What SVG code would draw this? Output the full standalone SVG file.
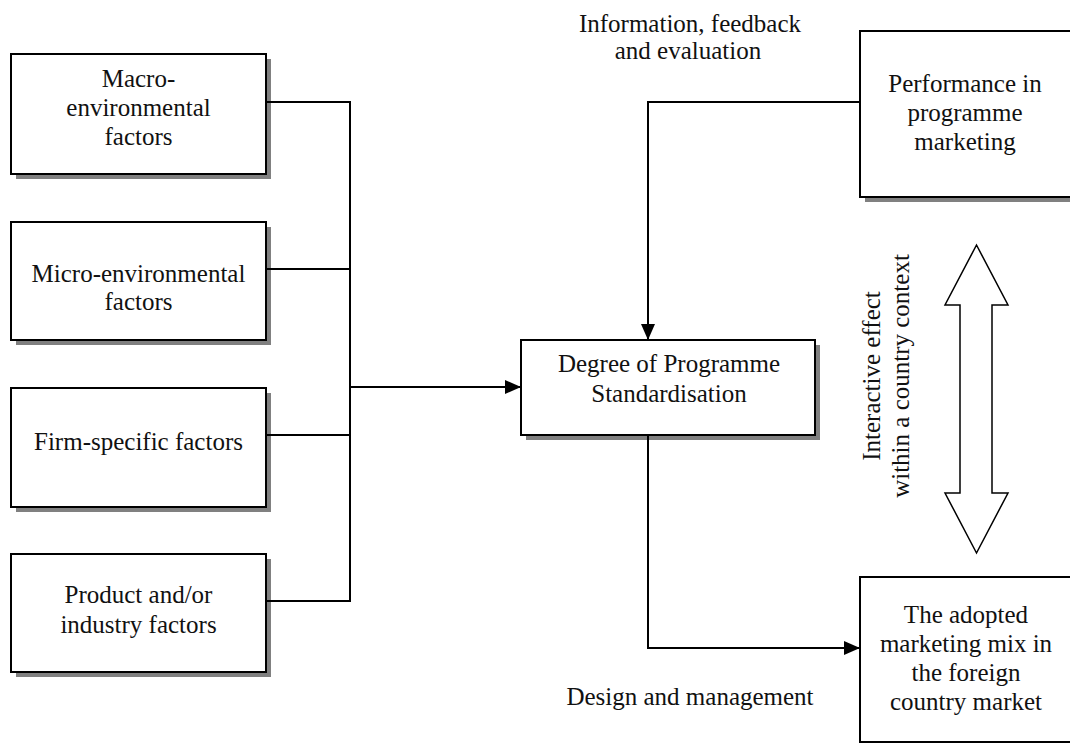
<svg xmlns="http://www.w3.org/2000/svg" width="1070" height="744" viewBox="0 0 1070 744">
  <style>
    text { font-family: "Liberation Serif", "Times New Roman", serif; font-size: 25px; fill: #111; text-anchor: middle; }
    .shadow { fill: #808080; stroke: none; }
    .box { fill: #fff; stroke: #000; stroke-width: 2; }
    .wire { fill: none; stroke: #000; stroke-width: 2; }
    .big { fill: #fff; stroke: #000; stroke-width: 1.5; stroke-linejoin: miter; }
  </style>
  <defs>
    <marker id="head" markerUnits="userSpaceOnUse" markerWidth="16" markerHeight="14" refX="16" refY="7" orient="auto">
      <path d="M0,0 L16,7 L0,14 Z" fill="#000"/>
    </marker>
  </defs>

  <rect width="1070" height="744" fill="#fff"/>

  <!-- left-hand factor boxes -->
  <g id="macro">
    <rect class="shadow" x="16" y="59" width="255" height="120"/>
    <rect class="box" x="11" y="54" width="255" height="120"/>
    <text x="138.5" y="87">Macro-</text>
    <text x="138.5" y="116">environmental</text>
    <text x="138.5" y="145">factors</text>
  </g>
  <g id="micro">
    <rect class="shadow" x="16" y="227" width="255" height="118"/>
    <rect class="box" x="11" y="222" width="255" height="118"/>
    <text x="138.5" y="282">Micro-environmental</text>
    <text x="138.5" y="310">factors</text>
  </g>
  <g id="firm">
    <rect class="shadow" x="16" y="393" width="255" height="119"/>
    <rect class="box" x="11" y="388" width="255" height="119"/>
    <text x="138.5" y="450">Firm-specific factors</text>
  </g>
  <g id="product">
    <rect class="shadow" x="16" y="559" width="255" height="118"/>
    <rect class="box" x="11" y="554" width="255" height="118"/>
    <text x="138.5" y="603">Product and/or</text>
    <text x="138.5" y="633">industry factors</text>
  </g>

  <!-- central box -->
  <g id="degree">
    <rect class="shadow" x="526" y="345" width="294" height="95"/>
    <rect class="box" x="521" y="340" width="294" height="95"/>
    <text x="669" y="372">Degree of Programme</text>
    <text x="669" y="402">Standardisation</text>
  </g>

  <!-- right-hand boxes -->
  <g id="performance">
    <rect class="shadow" x="865" y="36" width="212" height="166"/>
    <rect class="box" x="860" y="31" width="212" height="166"/>
    <text x="965" y="92">Performance in</text>
    <text x="965" y="121">programme</text>
    <text x="965" y="150">marketing</text>
  </g>
  <g id="mix">
    <rect class="box" x="860" y="577" width="212" height="165"/>
    <text x="966" y="623">The adopted</text>
    <text x="966" y="652">marketing mix in</text>
    <text x="966" y="681">the foreign</text>
    <text x="966" y="710">country market</text>
  </g>

  <!-- connectors -->
  <g id="connectors">
    <path class="wire" d="M266,102 H350 M266,269 H350 M266,435 H350 M266,601 H350 M350,101 V602"/>
    <path class="wire" d="M350,387 H521" marker-end="url(#head)"/>
    <path class="wire" d="M860,102 H648 V340" marker-end="url(#head)"/>
    <path class="wire" d="M648,435 V648 H860" marker-end="url(#head)"/>
    <polygon class="big" points="976.5,245 1008,305 992,305 992,493 1008,493 976.5,553 945,493 960,493 960,305 945,305"/>
  </g>

  <!-- connector labels -->
  <g id="labels">
    <text x="690" y="32">Information, feedback</text>
    <text x="688" y="59">and evaluation</text>
    <text x="690" y="705">Design and management</text>
    <text transform="translate(880,376) rotate(-90)">Interactive effect</text>
    <text transform="translate(909,376) rotate(-90)">within a country context</text>
  </g>
</svg>
